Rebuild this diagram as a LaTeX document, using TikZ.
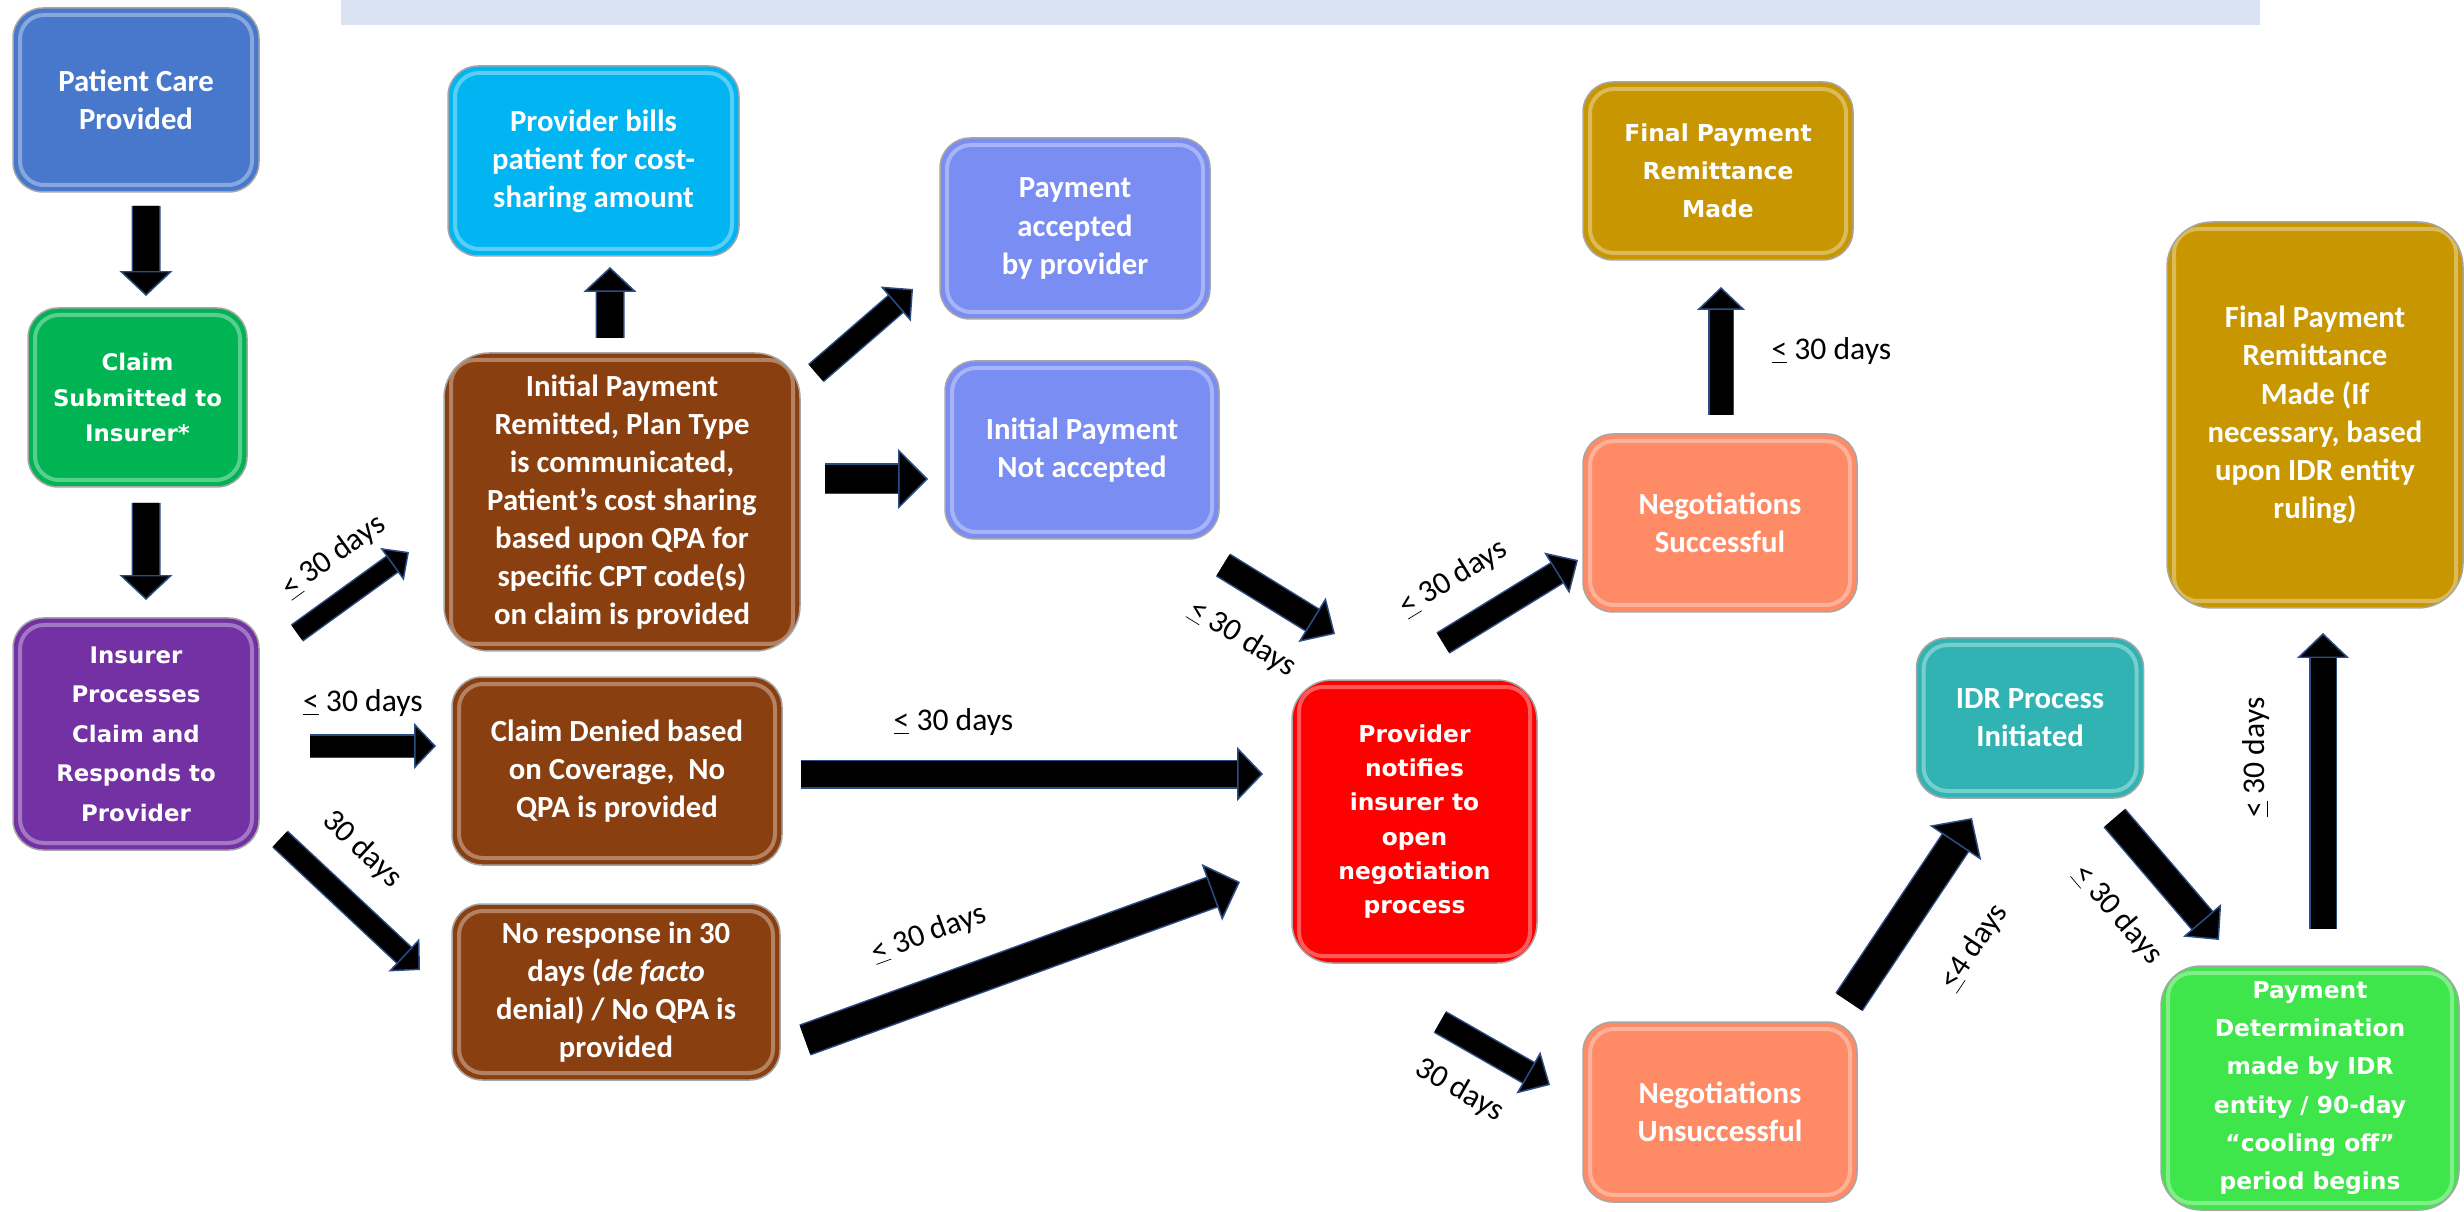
\documentclass[tikz,border=0pt]{standalone}
\usepackage{fontspec}
\setmainfont{Carlito}
\newfontfamily\verdfont{DejaVu Sans}
\usetikzlibrary{arrows.meta}
\newlength{\upx}\setlength{\upx}{0.02cm}
\newcommand{\ltq}{\underline{<}}
\definecolor{cpcp}{HTML}{4878CC}
\definecolor{ccsi}{HTML}{00B453}
\definecolor{cipc}{HTML}{7331A3}
\definecolor{cpbp}{HTML}{00B5F2}
\definecolor{cbrn}{HTML}{8A3F10}
\definecolor{cpay}{HTML}{7A8DF2}
\definecolor{cred}{HTML}{FF0000}
\definecolor{cneg}{HTML}{FF8A66}
\definecolor{cgold}{HTML}{C89600}
\definecolor{cidr}{HTML}{31B3B3}
\definecolor{cpdi}{HTML}{3EE54B}
\definecolor{banner}{HTML}{DAE3F3}
\definecolor{arrowedge}{HTML}{2C4C86}
\begin{document}
\begin{tikzpicture}[x=0.02cm,y=-0.02cm,
 stage/.style={draw=black!35, line width=1.5\upx, rounded corners=30\upx,
   text=white, align=center, inner sep=2\upx, outer sep=0pt,
   font=\bfseries\fontsize{17.5}{21.7}\selectfont,
   path picture={\draw[white, opacity=0.35, line width=4\upx, rounded corners=24\upx]
     ([shift={(7,7)}]path picture bounding box.north west) rectangle
     ([shift={(-7,-7)}]path picture bounding box.south east);}},
 vstage/.style={stage, font=\verdfont\bfseries\fontsize{13.3}{21.7}\selectfont},
 sz/.style 2 args={minimum width=#1\upx, minimum height=#2\upx},
 blk/.style n args={3}{/utils/exec={\pgfmathsetmacro\blkhw{#2*0.56905}%
     \pgfmathsetmacro\blkhl{#3*0.56905}},
   draw=black, line width=#1\upx,
   -{Triangle[width=\blkhw pt, length=\blkhl pt, line width=0.85pt, fill=black, color=arrowedge]},
   preaction={draw=arrowedge, line width=#1\upx+3\upx, -, shorten >=#3\upx-3\upx}},
 lab/.style={font=\fontsize{18}{21}\selectfont, inner sep=1\upx}]
\useasboundingbox (0,0) rectangle (2464,1212);
% title banner (cut off at the top)
\fill[banner] (341,0) rectangle (2260,25);

% stages
\node[stage, fill=cpcp, sz={246}{184}] (pcp) at (136,100) {Patient Care\\Provided};
\node[vstage, fill=ccsi, sz={219}{179}, font=\verdfont\bfseries\fontsize{13}{20}\selectfont] (csi) at (137.5,397.5) {Claim\\Submitted to\\Insurer*};
\node[vstage, fill=cipc, sz={246}{232}, font=\verdfont\bfseries\fontsize{13}{22.5}\selectfont] (ipc) at (136,734) {Insurer\\Processes\\Claim and\\Responds to\\Provider};
\node[stage, fill=cpbp, sz={291}{190}] (pbp) at (593.5,161) {Provider bills\\patient for cost-\\sharing amount};
\node[stage, fill=cbrn, sz={356}{298}, rounded corners=45\upx] (ipr) at (622,502) {Initial Payment\\Remitted, Plan Type\\is communicated,\\Patient’s cost sharing\\based upon QPA for\\specific CPT code(s)\\on claim is provided};
\node[stage, fill=cbrn, sz={330}{188}] (cdc) at (617,771) {Claim Denied based\\on Coverage,~~No\\QPA is provided};
\node[stage, fill=cbrn, sz={328}{176}] (nrd) at (616,992) {No response in 30\\days (\textit{de facto}\\denial) / No QPA is\\provided};
\node[stage, fill=cpay, sz={270}{181}] (pap) at (1075,228.5) {Payment\\accepted\\by provider};
\node[stage, fill=cpay, sz={274}{178}] (ipn) at (1082,450) {Initial Payment\\Not accepted};
\node[vstage, fill=cred, sz={245}{283}, rounded corners=40\upx, font=\verdfont\bfseries\fontsize{13.3}{19.5}\selectfont] (pni) at (1414.5,821.5) {Provider\\notifies\\insurer to\\open\\negotiation\\process};
\node[vstage, fill=cgold, sz={270}{178}] (fpr1) at (1718,171) {Final Payment\\Remittance\\Made};
\node[stage, fill=cneg, sz={274}{178}] (ns) at (1720,523) {Negotiations\\Successful};
\node[stage, fill=cneg, sz={274}{180}] (nu) at (1720,1112) {Negotiations\\Unsuccessful};
\node[stage, fill=cidr, sz={227}{160}] (idr) at (2030,718) {IDR Process\\Initiated};
\node[stage, fill=cgold, sz={296}{386}, rounded corners=45\upx] (fpr2) at (2315,415) {Final Payment\\Remittance\\Made (If\\necessary, based\\upon IDR entity\\ruling)};
\node[vstage, fill=cpdi, sz={298}{244}, rounded corners=40\upx] (pdi) at (2310,1088) {Payment\\Determination\\made by IDR\\entity / 90-day\\“cooling off”\\period begins};

% block arrows
\draw[blk={26}{53}{25}] ([shift={(10,14)}]pcp.south) -- ([shift={(8.5,-12)}]csi.north);
\draw[blk={26}{53}{25}] ([shift={(8.5,16)}]csi.south) -- ([shift={(10,-18)}]ipc.north);
\draw[blk={18}{40}{21}] ([shift={(38,15)}]ipc.north east) -- ([shift={(-35,50)}]ipr.west)
  node[lab, sloped, pos=0.54, above=17\upx] {\ltq{} 30 days};
\draw[blk={21}{46}{22}] ([shift={(51,12)}]ipc.east) -- ([shift={(-16,-25)}]cdc.west)
  node[lab, pos=0.42, above=18\upx] {\ltq{} 30 days};
\draw[blk={20}{45}{22}] ([shift={(21,-11)}]ipc.south east) -- ([shift={(-32,-22)}]nrd.west)
  node[lab, sloped, pos=0.35, above=24\upx] {30 days};
\draw[blk={26}{53}{25}] ([shift={(-12,-15)}]ipr.north) -- ([shift={(16.5,11)}]pbp.south);
\draw[blk={21}{46}{23}] ([shift={(16,20)}]ipr.north east) -- ([shift={(-27,60.5)}]pap.west);
\draw[blk={28}{60}{30}] ([shift={(25,-23)}]ipr.east) -- ([shift={(-17,29)}]ipn.west);
\draw[blk={24}{52}{27}] ([shift={(4,26)}]ipn.south east) -- ([shift={(-79.5,-46)}]pni.north)
  node[lab, sloped, pos=0.42, below=26\upx] {\ltq{} 30 days};
\draw[blk={26}{54}{26}] ([shift={(19,3)}]cdc.east) -- ([shift={(-29,-47.5)}]pni.west)
  node[lab, pos=0.33, above=24\upx] {\ltq{} 30 days};
\draw[blk={30}{60}{30}] ([shift={(25,48)}]nrd.east) -- ([shift={(-52,60.5)}]pni.west)
  node[lab, sloped, pos=0.33, above=28\upx] {\ltq{} 30 days};
\draw[blk={22}{48}{25}] ([shift={(28.5,-37)}]pni.north) -- ([shift={(-5,37)}]ns.west)
  node[lab, sloped, pos=0.27, above=24\upx] {\ltq{} 30 days};
\draw[blk={22}{48}{25}] ([shift={(25.5,59)}]pni.south) -- ([shift={(-33,-27)}]nu.west)
  node[lab, sloped, pos=0.40, below=24\upx] {30 days};
\draw[blk={23}{48}{23}] ([shift={(1,-19)}]ns.north) -- ([shift={(3,27)}]fpr1.south)
  node[lab, pos=0.5, right=38\upx] {\ltq{} 30 days};
\draw[blk={30}{62}{30}] ([shift={(-8,-20)}]nu.north east) -- ([shift={(-58,20)}]idr.south)
  node[lab, sloped, pos=0.52, below=44\upx] {\ltq4 days};
\draw[blk={26}{50}{26}] ([shift={(-29,20)}]idr.south east) -- ([shift={(-91,-26)}]pdi.north)
  node[lab, sloped, pos=0.47, below=33\upx] {\ltq{} 30 days};
\draw[blk={25}{52}{25}] ([shift={(13,-37)}]pdi.north) -- ([shift={(8,25)}]fpr2.south)
  node[lab, sloped, pos=0.58, above=40\upx] {\ltq{} 30 days};
\end{tikzpicture}
\end{document}
